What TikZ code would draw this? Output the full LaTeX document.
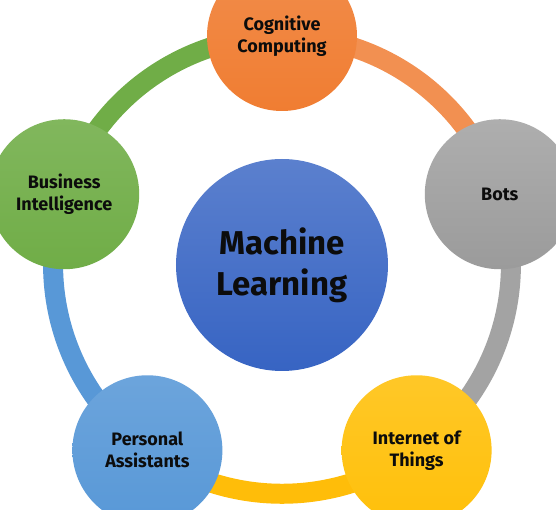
\documentclass[tikz,border=0pt]{standalone}
\usepackage{fontspec}
\setmainfont{Fira Sans}
\usetikzlibrary{backgrounds}

\definecolor{cogorange}{RGB}{240,125,50}
\definecolor{botgray}{RGB}{163,163,163}
\definecolor{iotyellow}{RGB}{255,192,10}
\definecolor{pablue}{RGB}{88,152,215}
\definecolor{bigreen}{RGB}{112,173,71}
\definecolor{mlblue}{RGB}{55,100,195}
\definecolor{labeltext}{RGB}{12,12,12}

\begin{document}
\begin{tikzpicture}[x=1pt, y=1pt,
    topic/.style={circle, minimum size=150pt, inner sep=0pt, align=center,
      font=\fontsize{18}{22}\selectfont\bfseries, text=labeltext},
    hub/.style={circle, minimum size=212pt, inner sep=0pt, align=center,
      font=\fontsize{33}{41}\selectfont\bfseries, text=labeltext},
    ringseg/.style={line width=20pt, bend left=36, looseness=0.94}]
  \useasboundingbox (-282,-245) rectangle (274,265);
  % centre and the five topics round it
  \node[hub, top color=mlblue!82!white, bottom color=mlblue] (ml) at (0,0) {Machine\\Learning};
  \node[topic, top color=cogorange!88!white, bottom color=cogorange] (cog) at (90:229) {Cognitive\\Computing};
  \node[topic, top color=botgray!88!white, bottom color=botgray!95!black] (bots) at (18:229) {Bots};
  \node[topic, top color=iotyellow!88!white, bottom color=iotyellow] (iot) at (-54:229) {Internet of\\Things};
  \node[topic, top color=pablue!88!white, bottom color=pablue] (pa) at (-126:229) {Personal\\Assistants};
  \node[topic, top color=bigreen!88!white, bottom color=bigreen] (bi) at (162:229) {Business\\Intelligence};
  % ring behind the circles
  \begin{scope}[on background layer]
    \fill[white] (-282,-245) rectangle (274,265);
    \draw[ringseg, draw=cogorange!85!white] (cog.center) to (bots.center);
    \draw[ringseg, draw=botgray] (bots.center) to (iot.center);
    \draw[ringseg, draw=iotyellow!95!orange] (iot.center) to (pa.center);
    \draw[ringseg, draw=pablue] (pa.center) to (bi.center);
    \draw[ringseg, draw=bigreen] (bi.center) to (cog.center);
  \end{scope}
\end{tikzpicture}
\end{document}
